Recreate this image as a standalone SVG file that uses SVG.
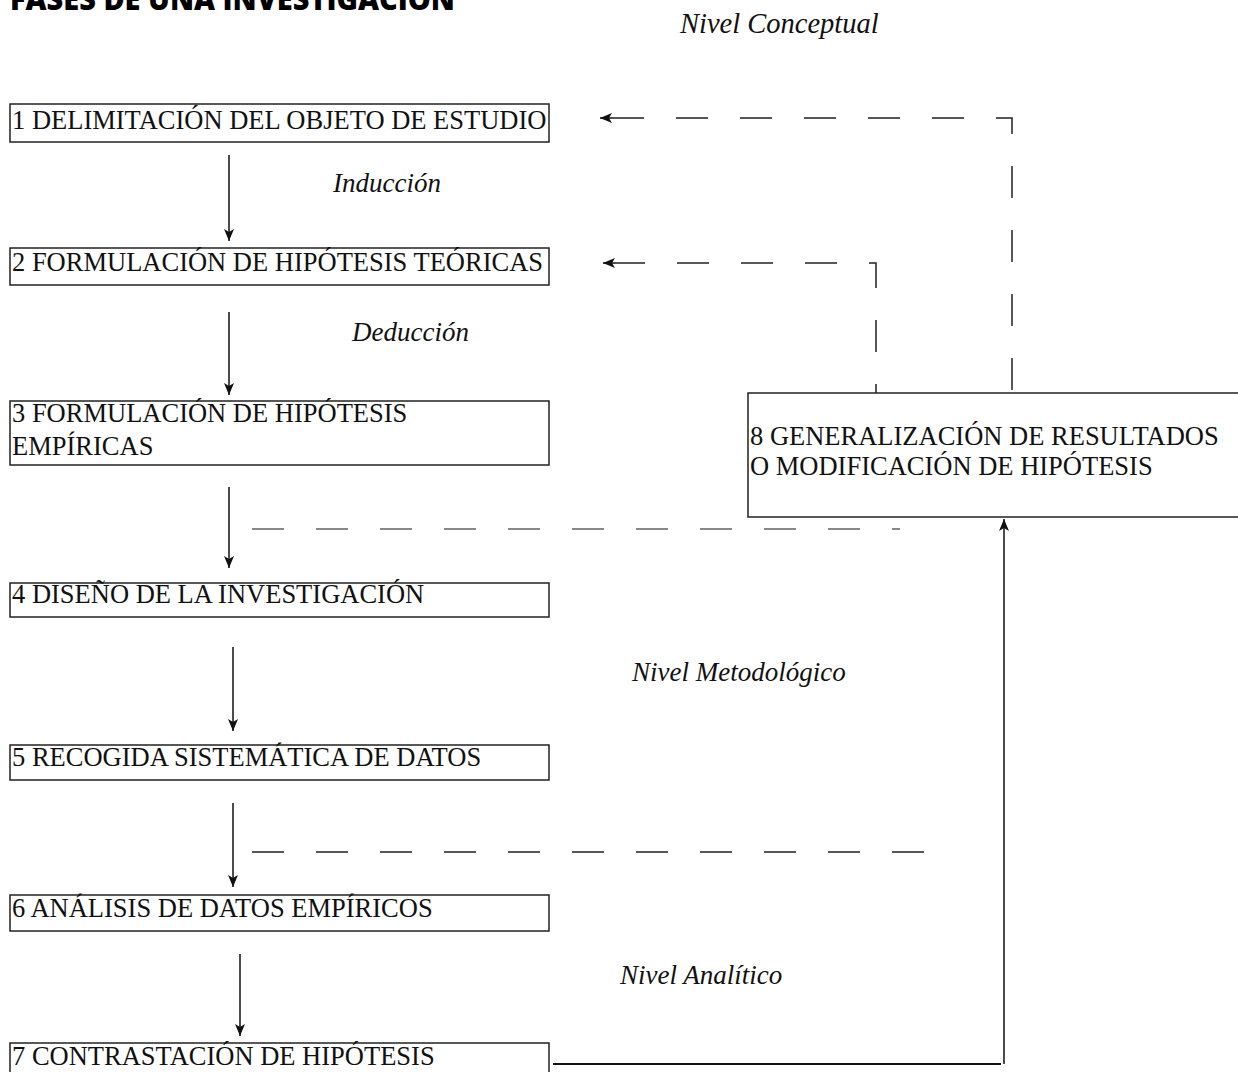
<svg xmlns="http://www.w3.org/2000/svg" width="1238" height="1072" viewBox="0 0 1238 1072">
<style>
.box{fill:#fff;stroke:#222;stroke-width:1.5}
.t{font-family:"Liberation Serif","Times New Roman",serif;font-size:26.5px;fill:#111}
.i{font-family:"Liberation Serif","Times New Roman",serif;font-size:27px;font-style:italic;fill:#111}
.title{font-family:"Open Sans","Noto Sans",sans-serif;font-weight:800;font-size:30px;fill:#000}
.arr{stroke:#111;stroke-width:1.5;fill:none;marker-end:url(#ah)}
.dash{stroke:#222;stroke-width:1.5;fill:none;stroke-dasharray:32 32}
.dashg{stroke:#888;stroke-width:2;fill:none;stroke-dasharray:32 32}
</style>
<defs>
<marker id="ah" viewBox="0 0 12 10" refX="12" refY="5" markerWidth="12" markerHeight="10" markerUnits="userSpaceOnUse" orient="auto">
<path d="M0,0 L12,5 L0,10 L3,5 Z" fill="#111"/>
</marker>
</defs>
<rect width="1238" height="1072" fill="#fff"/>
<text class="title" x="10" y="10" textLength="445" lengthAdjust="spacingAndGlyphs">FASES DE UNA INVESTIGACIÓN</text>
<text class="i" x="680" y="33" style="font-size:28.5px">Nivel Conceptual</text>
<text class="i" x="333" y="192">Inducción</text>
<text class="i" x="352" y="341">Deducción</text>
<text class="i" x="632" y="681">Nivel Metodológico</text>
<text class="i" x="620" y="984">Nivel Analítico</text>

<g id="connectors">
<line class="arr" x1="229" y1="155" x2="229" y2="241"/>
<line class="arr" x1="229" y1="312" x2="229" y2="395"/>
<line class="arr" x1="229" y1="487" x2="229" y2="568"/>
<line class="arr" x1="233" y1="647" x2="233" y2="731"/>
<line class="arr" x1="233" y1="803" x2="233" y2="887"/>
<line class="arr" x1="240" y1="954" x2="240" y2="1036"/>
<line class="dashg" x1="252" y1="529" x2="900" y2="529"/>
<line class="dash" x1="252" y1="852" x2="924" y2="852"/>
<polyline class="dash" points="1012,390 1012,118 612,118"/>
<line class="arr" x1="612" y1="118" x2="600" y2="118"/>
<polyline class="dash" style="stroke-dashoffset:23" points="876,393 876,263 615,263"/>
<line class="arr" x1="615" y1="263" x2="603" y2="263"/>
<line stroke="#111" stroke-width="2" x1="553" y1="1064" x2="1001" y2="1064"/>
<line class="arr" x1="1004" y1="1064" x2="1004" y2="519"/>
</g>

<g id="n1"><rect class="box" x="10" y="104" width="539" height="38"/><text class="t" x="12" y="129">1 DELIMITACIÓN DEL OBJETO DE ESTUDIO</text></g>
<g id="n2"><rect class="box" x="10" y="248" width="539" height="37"/><text class="t" x="12" y="271">2 FORMULACIÓN DE HIPÓTESIS TEÓRICAS</text></g>
<g id="n3"><rect class="box" x="10" y="401" width="539" height="64"/><text class="t" x="12" y="422">3 FORMULACIÓN DE HIPÓTESIS</text><text class="t" x="12" y="455">EMPÍRICAS</text></g>
<g id="n4"><rect class="box" x="10" y="583" width="539" height="34"/><text class="t" x="12" y="603">4 DISEÑO DE LA INVESTIGACIÓN</text></g>
<g id="n5"><rect class="box" x="10" y="745" width="539" height="35"/><text class="t" x="12" y="766">5 RECOGIDA SISTEMÁTICA DE DATOS</text></g>
<g id="n6"><rect class="box" x="10" y="895" width="539" height="36"/><text class="t" x="12" y="917">6 ANÁLISIS DE DATOS EMPÍRICOS</text></g>
<g id="n7"><rect class="box" x="10" y="1043" width="539" height="40"/><text class="t" x="12" y="1065">7 CONTRASTACIÓN DE HIPÓTESIS</text></g>
<g id="n8"><rect class="box" x="748" y="393" width="500" height="124"/><text class="t" x="750" y="445">8 GENERALIZACIÓN DE RESULTADOS</text><text class="t" x="750" y="475">O MODIFICACIÓN DE HIPÓTESIS</text></g>
</svg>
